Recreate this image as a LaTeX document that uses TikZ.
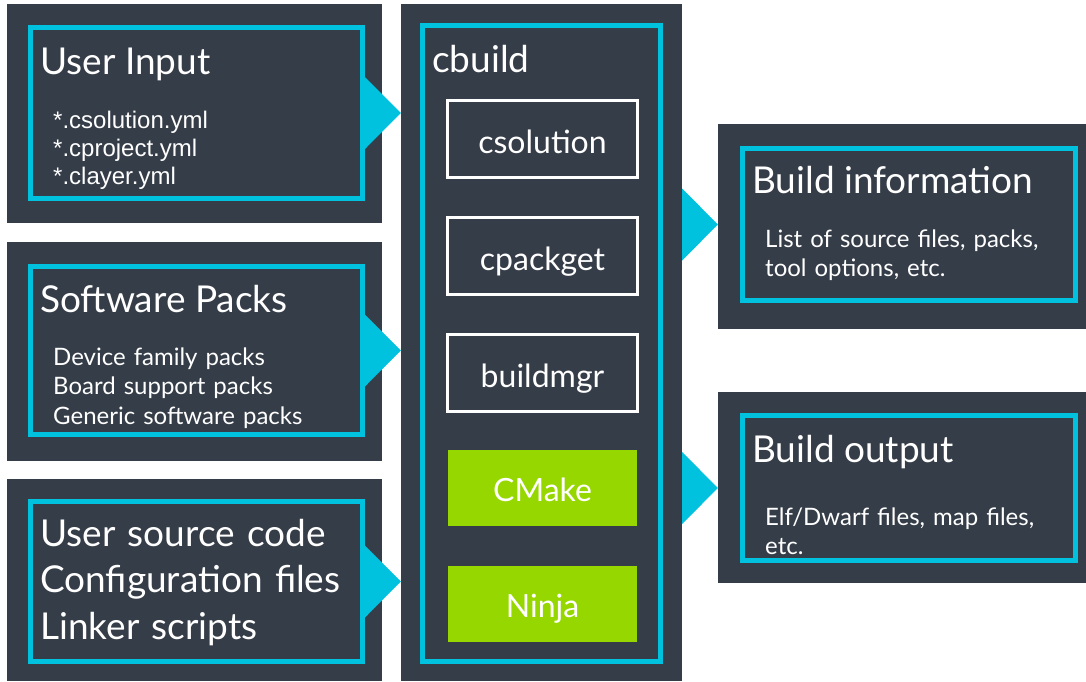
\documentclass[tikz,border=0pt]{standalone}
\usepackage{fontspec}
\setmainfont{Lato}
\newfontfamily\ymlfont{Liberation Sans}
\usetikzlibrary{calc}
\definecolor{panelgray}{HTML}{353D48}
\definecolor{armcyan}{HTML}{00C1DE}
\definecolor{armgreen}{HTML}{97D700}

\begin{document}
\begin{tikzpicture}[x=1pt, y=-1pt,
  panel/.style={fill=panelgray, inner sep=0pt},
  frame/.style={draw=armcyan, line width=5pt, inner sep=0pt},
  toolbox/.style={draw=white, line width=3pt, inner sep=0pt,
    minimum width=190pt, minimum height=77pt},
  greenbox/.style={fill=armgreen, inner sep=0pt,
    minimum width=189pt, minimum height=76pt},
  title/.style={text=white, anchor=base west, inner sep=0pt,
    font=\fontsize{37}{46.5}\selectfont},
  body/.style={text=white, anchor=base west, inner sep=0pt, align=left,
    text width=310pt, font=\fontsize{24}{29.5}\selectfont},
  tool/.style={text=white, anchor=base, inner sep=0pt,
    font=\fontsize{32}{38}\selectfont}]
  \useasboundingbox (0,0) rectangle (1086,681);

  % dark panels
  \node[panel, minimum width=375pt, minimum height=219pt] (inpanel) at (194.5,113.5) {};
  \node[panel, minimum width=375pt, minimum height=219pt] (packpanel) at (194.5,351.5) {};
  \node[panel, minimum width=375pt, minimum height=202pt] (srcpanel) at (194.5,580) {};
  \node[panel, minimum width=281pt, minimum height=677pt] (cbpanel) at (541.5,342.5) {};
  \node[panel, minimum width=368pt, minimum height=205pt] (infopanel) at (902,226.5) {};
  \node[panel, minimum width=368pt, minimum height=191pt] (outpanel) at (902,487.5) {};

  % cyan frames
  \node[frame, minimum width=332pt, minimum height=171pt] (inframe) at (196.5,113) {};
  \node[frame, minimum width=332pt, minimum height=168pt] (packframe) at (196.5,350.5) {};
  \node[frame, minimum width=332pt, minimum height=160pt] (srcframe) at (196.5,581.5) {};
  \node[frame, minimum width=238pt, minimum height=636pt] (cbframe) at (541.5,343.5) {};
  \node[frame, minimum width=333pt, minimum height=152pt] (infoframe) at (909,224.5) {};
  \node[frame, minimum width=333pt, minimum height=145pt] (outframe) at (909,488) {};

  % arrows into and out of cbuild
  \foreach \src in {inframe, packframe, srcframe}
    \fill[armcyan] ($(\src.east)+(0,-36)$) -- (\src.east -| cbpanel.west)
      -- ($(\src.east)+(0,36)$) -- cycle;
  \foreach \dst in {infoframe, outframe}
    \fill[armcyan] ($(\dst.center -| cbpanel.east)+(0,-36)$) -- (\dst.center -| infopanel.west)
      -- ($(\dst.center -| cbpanel.east)+(0,36)$) -- cycle;

  % tools inside cbuild
  \node[toolbox] (csolution) at (542.5,139) {};
  \node[toolbox] (cpackget) at (542.5,256) {};
  \node[toolbox] (buildmgr) at (542.5,373) {};
  \node[greenbox] (cmake) at (542.5,488) {};
  \node[greenbox] (ninja) at (542.5,604) {};
  \node[tool] (csolutiontxt) at (542.5,153) {csolution};
  \node[tool] (cpackgettxt) at (542.5,270) {cpackget};
  \node[tool] (buildmgrtxt) at (542.5,387) {buildmgr};
  \node[tool] (cmaketxt) at (542.5,501) {CMake};
  \node[tool] (ninjatxt) at (542.5,617) {Ninja};

  % texts
  \node[title] (intitle) at (40,74) {User Input};
  \node[body, font=\ymlfont\fontsize{24}{28}\selectfont] (inlist) at (53,128)
    {*.csolution.yml\\{}*.cproject.yml\\{}*.clayer.yml};
  \node[title] (packtitle) at (40,312) {Software Packs};
  \node[body] (packlist) at (53,365)
    {Device family packs\\Board support packs\\Generic software packs};
  \node[title, text width=330pt] (srclist) at (40,546)
    {User source code\\Configuration files\\Linker scripts};
  \node[title] (cbtitle) at (432,72) {cbuild};
  \node[title] (infotitle) at (752,193) {Build information};
  \node[body] (infolist) at (765,247) {List of source files, packs,\\tool options, etc.};
  \node[title] (outtitle) at (752,462) {Build output};
  \node[body] (outlist) at (765,525) {Elf/Dwarf files, map files,\\etc.};
\end{tikzpicture}
\end{document}
